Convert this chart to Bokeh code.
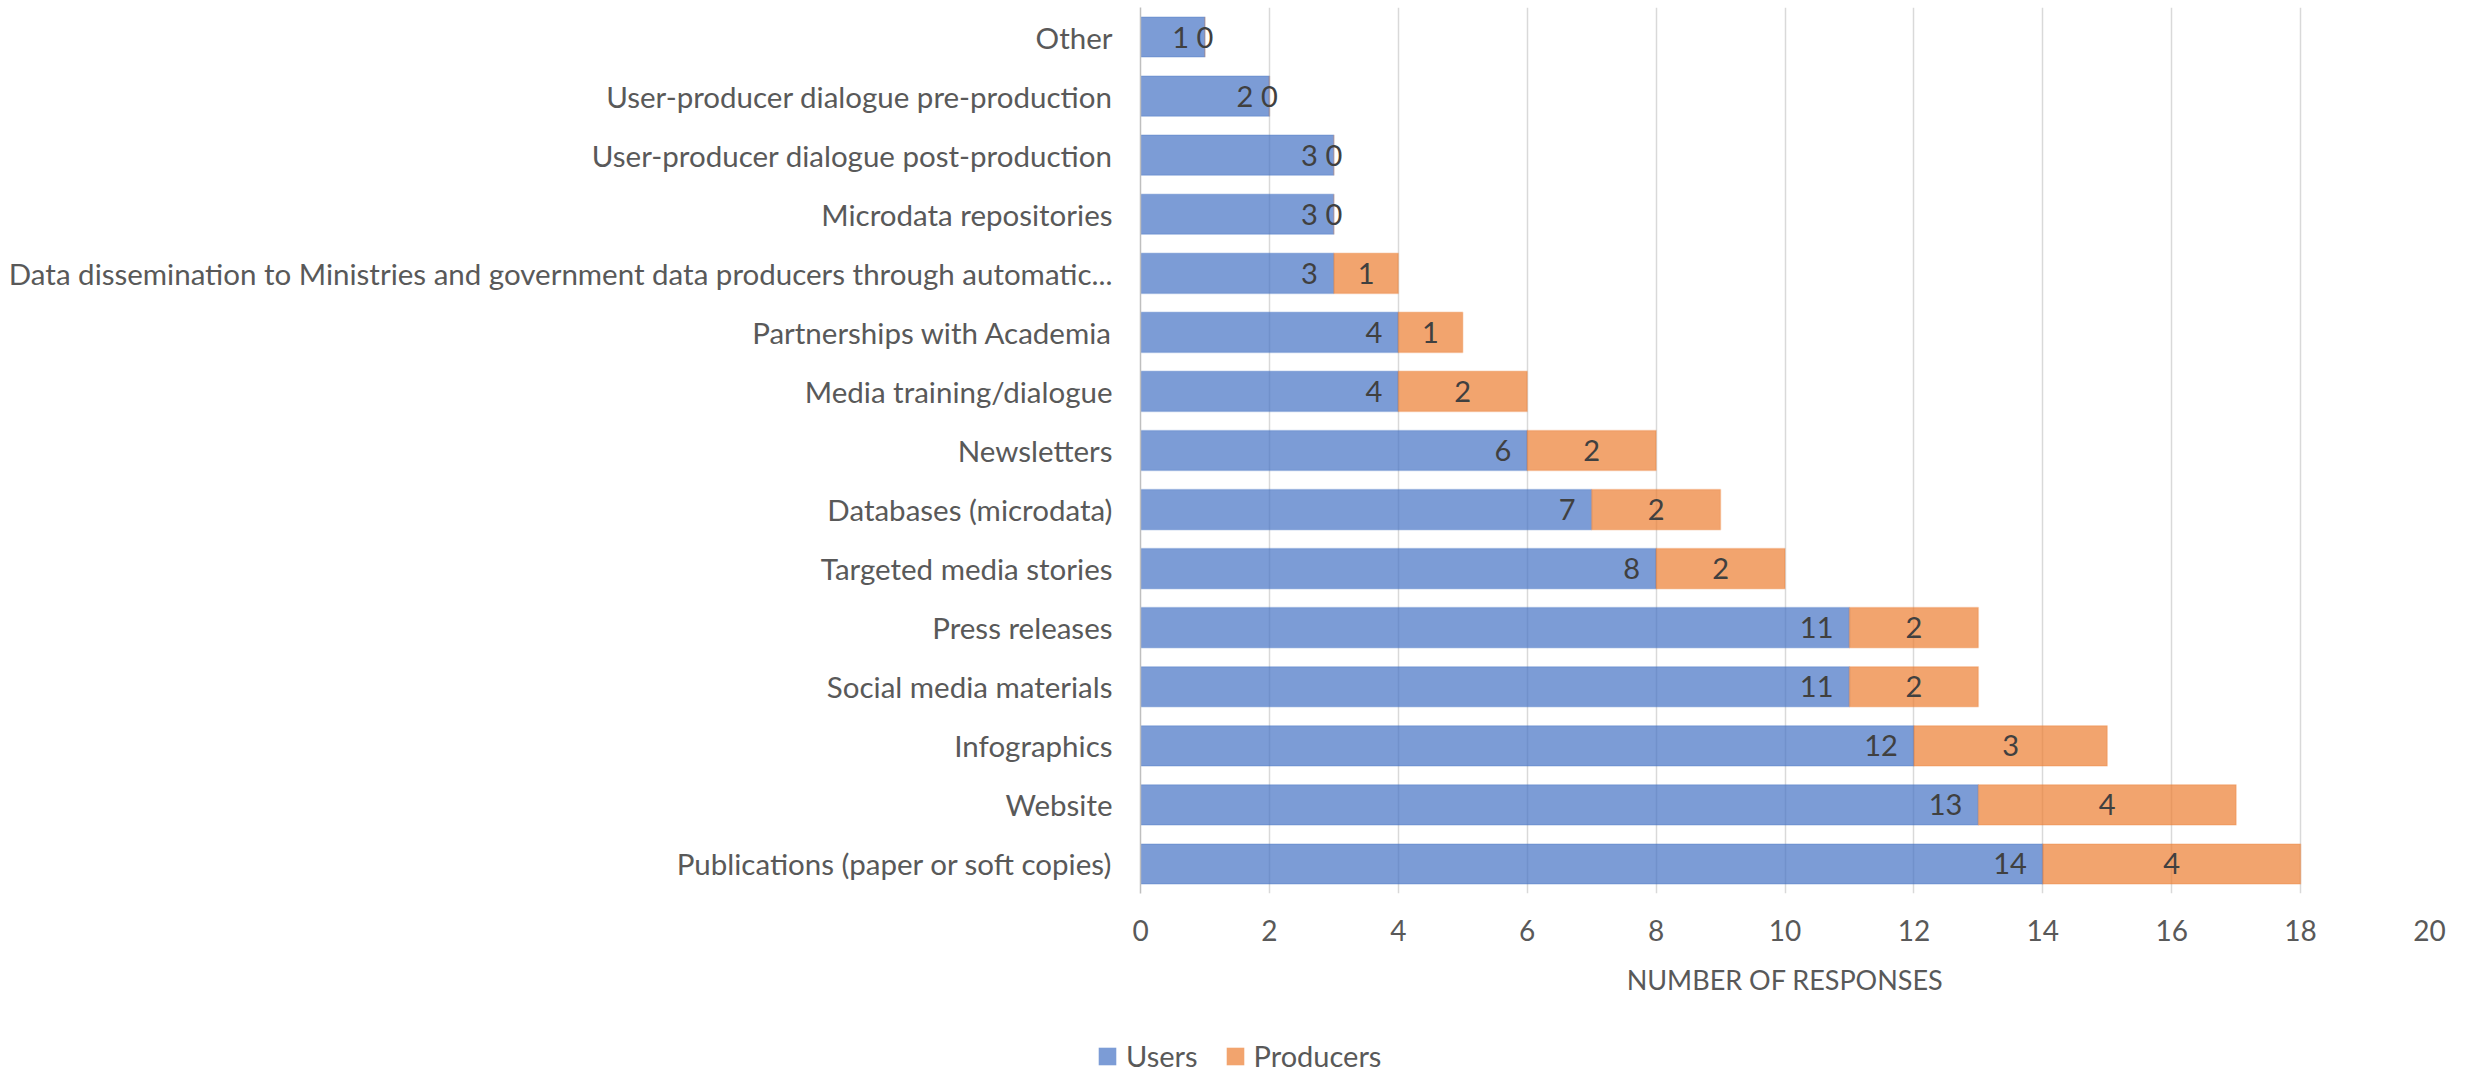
from bokeh.plotting import figure
from bokeh.models import FactorRange, Range1d, FixedTicker, Legend, LegendItem, ColumnDataSource
from bokeh.core.properties import value
from bokeh.embed import file_html
from bokeh.resources import INLINE

# Categories listed from bottom to top
categories = [
    "Publications (paper or soft copies)",
    "Website",
    "Infographics",
    "Social media materials",
    "Press releases",
    "Targeted media stories",
    "Databases (microdata)",
    "Newsletters",
    "Media training/dialogue",
    "Partnerships with Academia",
    "Data dissemination to Ministries and government data producers through automatic...",
    "Microdata repositories",
    "User-producer dialogue post-production",
    "User-producer dialogue pre-production",
    "Other",
]
users = [14, 13, 12, 11, 11, 8, 7, 6, 4, 4, 3, 3, 3, 2, 1]
producers = [4, 4, 3, 2, 2, 2, 2, 2, 2, 1, 1, 0, 0, 0, 0]
x_ticks = [0, 2, 4, 6, 8, 10, 12, 14, 16, 18, 20]
series_names = ["Users", "Producers"]

FONT = "Lato"
TEXT = "#595959"
LABEL = "#404040"
BLUE = "#4472C4"
ORANGE = "#ED7D31"

src = ColumnDataSource(dict(
    cat=categories,
    users=users,
    producers=producers,
    total=[u + p for u, p in zip(users, producers)],
    pmid=[u + p / 2 for u, p in zip(users, producers)],
    ulab=[str(u) for u in users],
    plab=[str(p) for p in producers],
))

W = 2471
p = figure(
    width=W, height=1034,
    y_range=FactorRange(*categories, range_padding=0),
    x_range=Range1d(0, 20),
    output_backend="svg", toolbar_location=None,
    min_border_left=1140, min_border_right=42,
    min_border_top=7, min_border_bottom=141,
)
p.outline_line_color = None
p.background_fill_color = "white"
p.border_fill_color = "white"

bar_h = 0.68
p.hbar(y="cat", left=0, right="users", height=bar_h, source=src,
       fill_color=BLUE, fill_alpha=0.7, line_color=BLUE, line_alpha=0.25, line_width=1.5)
p.hbar(y="cat", left="users", right="total", height=bar_h, source=src,
       fill_color=ORANGE, fill_alpha=0.7, line_color=ORANGE, line_alpha=0.25, line_width=1.5)

# value labels: users at the inner end, producers centred in their segment
p.text(x="users", y="cat", text="ulab", source=src, x_offset=-16,
       text_align="right", text_baseline="middle", text_font=value(FONT),
       text_font_size="29px", text_color=LABEL)
p.text(x="pmid", y="cat", text="plab", source=src,
       text_align="center", text_baseline="middle", text_font=value(FONT),
       text_font_size="29px", text_color=LABEL)

# x axis
xa = p.xaxis[0]
xa.ticker = FixedTicker(ticks=x_ticks)
xa.axis_line_color = None
xa.major_tick_line_color = None
xa.minor_tick_line_color = None
xa.major_tick_out = 0
xa.major_label_standoff = 26
xa.major_label_text_font = FONT
xa.major_label_text_font_size = "28px"
xa.major_label_text_color = TEXT
xa.axis_label = "NUMBER OF RESPONSES"
xa.axis_label_text_font = FONT
xa.axis_label_text_font_size = "27px"
xa.axis_label_text_font_style = "normal"
xa.axis_label_text_color = TEXT
xa.axis_label_standoff = 19

# y axis
ya = p.yaxis[0]
ya.axis_line_color = "#BFBFBF"
ya.axis_line_width = 1.5
ya.major_tick_line_color = None
ya.minor_tick_line_color = None
ya.major_tick_out = 0
ya.major_label_standoff = 28
ya.major_label_text_font = FONT
ya.major_label_text_font_size = "29.5px"
ya.major_label_text_color = TEXT

p.xgrid.ticker = FixedTicker(ticks=x_ticks)
p.xgrid.grid_line_color = "#D9D9D9"
p.xgrid.grid_line_width = 1.5
p.ygrid.grid_line_color = None

# legend strip underneath the chart
lg = figure(width=W, height=40, x_range=Range1d(0, 1), y_range=Range1d(0, 1),
            output_backend="svg", toolbar_location=None,
            min_border_left=0, min_border_right=0, min_border_top=0, min_border_bottom=0)
lg.axis.visible = False
lg.grid.grid_line_color = None
lg.outline_line_color = None
nan = float("nan")
sw_users = lg.hbar(y=[nan], right=[nan], height=0.5, fill_color=BLUE, fill_alpha=0.7, line_color=None)
sw_prod = lg.hbar(y=[nan], right=[nan], height=0.5, fill_color=ORANGE, fill_alpha=0.7, line_color=None)
legend = Legend(
    items=[LegendItem(label=series_names[0], renderers=[sw_users]),
           LegendItem(label=series_names[1], renderers=[sw_prod])],
    orientation="horizontal", location=(1096, 1),
    padding=0, margin=0, spacing=26,
    glyph_width=22, glyph_height=22, label_standoff=8,
    label_text_font=FONT, label_text_font_size="29px", label_text_color=TEXT,
    border_line_color=None, background_fill_alpha=0,
)
lg.add_layout(legend, "center")

open("out.html", "w").write(file_html([p, lg], INLINE))
